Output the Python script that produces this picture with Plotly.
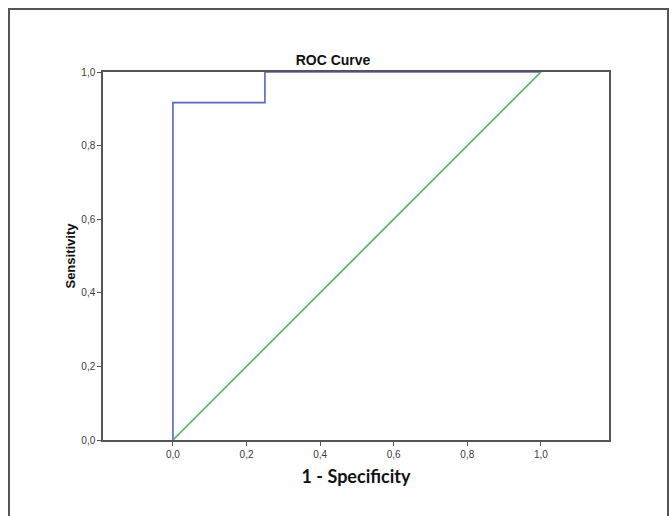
import plotly.graph_objects as go

# Data
roc_fpr = [0.0, 0.0, 0.25, 0.25, 1.0]
roc_tpr = [0.0, 0.9167, 0.9167, 1.0, 1.0]
ref_x = [0.0, 1.0]
ref_y = [0.0, 1.0]
tick_vals = [0.0, 0.2, 0.4, 0.6, 0.8, 1.0]

W, H = 672, 516
L, R, T, B = 103, 609, 72, 440  # plot area in pixels
pw, ph = R - L, B - T

def px_x(p):
    return (p - L) / pw

def px_y(p):
    return (B - p) / ph

fig = go.Figure()
fig.add_trace(go.Scatter(x=roc_fpr, y=roc_tpr, mode="lines",
                         line=dict(color="#5766c0", width=1.6), showlegend=False))
fig.add_trace(go.Scatter(x=ref_x, y=ref_y, mode="lines",
                         line=dict(color="#4db368", width=1.6), showlegend=False))

axis_common = dict(showgrid=False, zeroline=False, showline=True, mirror=True,
                   linecolor="#555555", linewidth=1.5, ticks="outside", ticklen=4,
                   tickcolor="#555555", tickwidth=1.2, tickvals=tick_vals,
                   tickformat=".1f",
                   tickfont=dict(family="Liberation Sans, Arial", size=10, color="#3a3a3a"))

fig.update_layout(
    width=W, height=H,
    margin=dict(l=L, r=W - R, t=T, b=H - B),
    paper_bgcolor="white", plot_bgcolor="white",
    separators=", ",
    title=dict(text="<b>ROC Curve</b>", xref="container", x=333 / W, xanchor="center",
               yref="container", y=1 - 60 / H, yanchor="middle",
               font=dict(family="Liberation Sans, Arial", size=14, color="#111111")),
    xaxis=dict(range=[-0.19, 1.185], **axis_common,
               title=dict(text="<b>1 - Specificity</b>", standoff=12,
                          font=dict(family="Lato, Open Sans", size=18, color="#111111"))),
    yaxis=dict(range=[0, 1], **axis_common,
               title=dict(text="<b>Sensitivity</b>", standoff=3,
                          font=dict(family="Liberation Sans, Arial", size=13, color="#111111"))),
    shapes=[dict(type="path", xref="paper", yref="paper",
                 path=f"M {px_x(9)} {px_y(525)} L {px_x(9)} {px_y(9)} L {px_x(668)} {px_y(9)} L {px_x(668)} {px_y(525)}",
                 line=dict(color="#555555", width=2))],
)
fig.write_html("out.html")
